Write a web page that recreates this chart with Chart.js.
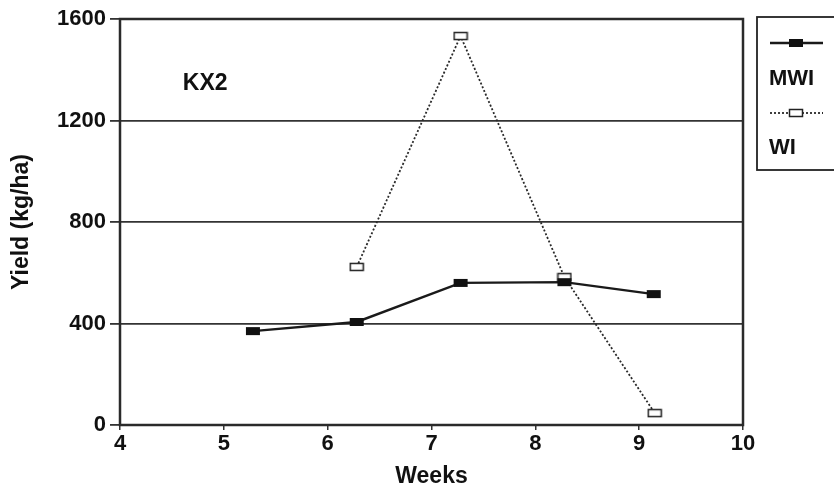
<!DOCTYPE html>
<html><head><meta charset="utf-8">
<script src="https://cdn.jsdelivr.net/npm/chart.js@4/dist/chart.umd.min.js"></script>
<style>html,body{margin:0;padding:0;background:#fff}#wrap{width:834px;height:491px;position:relative}</style>
</head><body><div id="wrap"><canvas id="c" width="834" height="491"></canvas></div>
<script>
const mwiWeeks = [5.28, 6.28, 7.28, 8.28, 9.14];
const mwiYield = [370, 406, 560, 563, 516];
const wiWeeks = [6.28, 7.28, 8.28, 9.15];
const wiYield = [623, 1533, 583, 47];
const xTicks = [4, 5, 6, 7, 8, 9, 10];
const yTicks = [0, 400, 800, 1200, 1600];
const seriesNames = ['MWI', 'WI'];
const panelLabel = 'KX2';

function makeMarker(filled) {
  const c = document.createElement('canvas');
  c.width = 16; c.height = 10;
  const g = c.getContext('2d');
  if (filled) { g.fillStyle = '#111'; g.fillRect(1, 1, 14, 8); }
  else { g.fillStyle = '#fff'; g.fillRect(1.5, 1.5, 13, 7); g.strokeStyle = '#222'; g.lineWidth = 1.5; g.strokeRect(1.5, 1.5, 13, 7); }
  return c;
}
const mFilled = makeMarker(true), mOpen = makeMarker(false);
const FONT = 'Liberation Sans, Arial, sans-serif';

const extras = {
  id: 'extras',
  afterDraw(chart) {
    const {ctx, chartArea: a, scales} = chart;
    ctx.save();
    ctx.strokeStyle = '#2a2a2a'; ctx.lineWidth = 2.5;
    ctx.strokeRect(a.left, a.top, a.right - a.left, a.bottom - a.top);
    ctx.fillStyle = '#111';
    ctx.font = 'bold 23px ' + FONT;
    ctx.textAlign = 'center'; ctx.textBaseline = 'middle';
    ctx.fillText(panelLabel, scales.x.getPixelForValue(4.82), scales.y.getPixelForValue(1344));
    // legend box
    const lx = 757, ly = 17, lw = 90, lh = 153;
    ctx.lineWidth = 1.8; ctx.strokeStyle = '#222';
    ctx.strokeRect(lx, ly, lw, lh);
    const ds = chart.data.datasets;
    const rows = [{y: 43, ty: 79}, {y: 113, ty: 148}];
    rows.forEach((r, i) => {
      ctx.beginPath();
      ctx.setLineDash(ds[i].borderDash || []);
      ctx.lineWidth = ds[i].borderWidth; ctx.strokeStyle = ds[i].borderColor;
      ctx.moveTo(770, r.y); ctx.lineTo(823, r.y); ctx.stroke();
      ctx.setLineDash([]);
      const m = ds[i].pointStyle;
      ctx.drawImage(m, 796 - m.width / 2, r.y - m.height / 2);
      ctx.fillStyle = '#111'; ctx.font = 'bold 22px ' + FONT;
      ctx.textAlign = 'left'; ctx.textBaseline = 'middle';
      ctx.fillText(seriesNames[i], 769, r.ty);
    });
    ctx.restore();
  }
};

new Chart(document.getElementById('c'), {
  type: 'line',
  data: {
    datasets: [
      { label: seriesNames[0], data: mwiWeeks.map((x, i) => ({x, y: mwiYield[i]})),
        borderColor: '#1a1a1a', borderWidth: 2.4, pointStyle: mFilled, pointRadius: 6, fill: false, tension: 0 },
      { label: seriesNames[1], data: wiWeeks.map((x, i) => ({x, y: wiYield[i]})),
        borderColor: '#2a2a2a', borderWidth: 1.8, borderDash: [2, 2], pointStyle: mOpen, pointRadius: 6, fill: false, tension: 0 }
    ]
  },
  options: {
    responsive: false, animation: false,
    layout: { padding: { top: 19, right: 91, left: 0, bottom: 0 } },
    plugins: { legend: { display: false }, tooltip: { enabled: false } },
    scales: {
      x: {
        type: 'linear', min: 4, max: 10,
        afterBuildTicks: s => { s.ticks = xTicks.map(v => ({value: v})); },
        afterFit: s => { s.height = 66; },
        grid: { display: true, drawOnChartArea: false, color: '#333', tickLength: 5, lineWidth: 1.5 },
        border: { display: false },
        ticks: { color: '#111', font: { family: FONT, size: 22, weight: 'bold' }, padding: 1, maxRotation: 0,
                 callback: v => String(v) },
        title: { display: true, text: 'Weeks', color: '#111', font: { family: FONT, size: 23, weight: 'bold' }, padding: { top: 0, bottom: 1 } }
      },
      y: {
        min: 0, max: 1600,
        afterBuildTicks: s => { s.ticks = yTicks.map(v => ({value: v})); },
        afterFit: s => { s.width = 120; },
        grid: { color: '#333', lineWidth: 1.8, tickLength: 10 },
        border: { display: false },
        ticks: { color: '#111', font: { family: FONT, size: 22, weight: 'bold' }, padding: 4,
                 callback: v => String(v) },
        title: { display: true, text: 'Yield (kg/ha)', color: '#111', font: { family: FONT, size: 23, weight: 'bold' }, padding: { top: 8, bottom: 0 } }
      }
    }
  },
  plugins: [extras]
});
</script></body></html>
